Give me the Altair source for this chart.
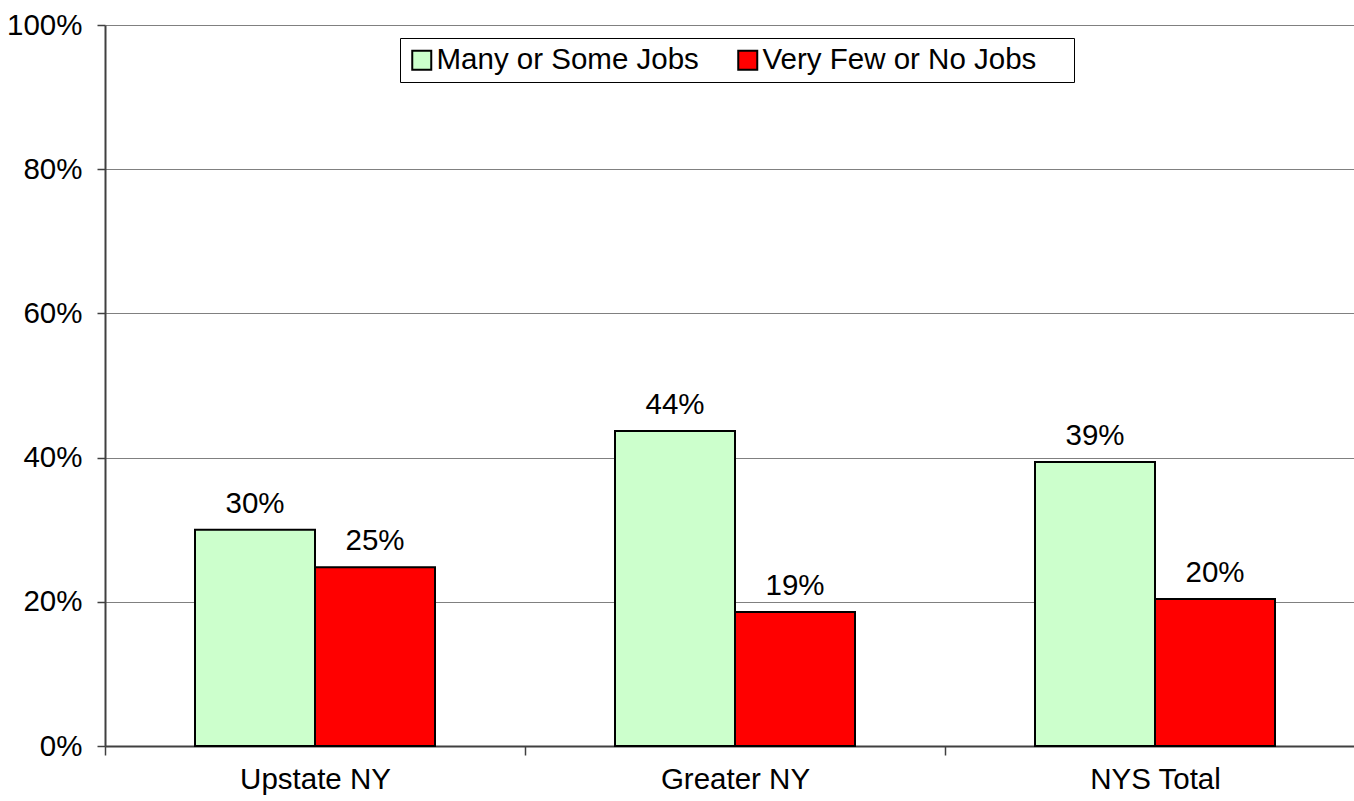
import altair as alt
import pandas as pd

categories = ["Upstate NY", "Greater NY", "NYS Total"]
series = ["Many or Some Jobs", "Very Few or No Jobs"]
many_values = [0.300, 0.437, 0.394]
few_values = [0.248, 0.186, 0.204]
colors = ["#CCFFCC", "#FF0000"]
y_ticks = [0, 0.2, 0.4, 0.6, 0.8, 1.0]

rows = []
for i, c in enumerate(categories):
    rows.append({"cat": c, "series": series[0], "value": many_values[i]})
    rows.append({"cat": c, "series": series[1], "value": few_values[i]})
df = pd.DataFrame(rows)

FONT = "Liberation Sans"
FS = 29.5

base = alt.Chart(df).encode(
    x=alt.X(
        "cat:N",
        sort=categories,
        scale=alt.Scale(range=[0, 1260], paddingInner=0, paddingOuter=0),
        axis=alt.Axis(
            title=None, labelAngle=0, tickBand="extent", tickSize=9,
            labelPadding=10, labelFont=FONT, labelFontSize=FS, labelColor="black",
            domainColor="#404040", domainWidth=2, tickColor="#404040", tickWidth=1.5,
            grid=False,
        ),
    ),
    xOffset=alt.XOffset(
        "series:N", sort=series,
        scale=alt.Scale(paddingInner=0, paddingOuter=0.75),
    ),
    y=alt.Y(
        "value:Q",
        scale=alt.Scale(domain=[0, 1]),
        axis=alt.Axis(
            title=None, values=y_ticks, format=".0%", tickSize=8, labelPadding=15,
            labelFont=FONT, labelFontSize=FS, labelColor="black",
            domainColor="#404040", domainWidth=2, tickColor="#404040", tickWidth=1.5,
            grid=True, gridColor="#808080", gridWidth=1,
        ),
    ),
)

bars = base.mark_bar(stroke="black", strokeWidth=2).encode(
    color=alt.Color(
        "series:N", sort=series,
        scale=alt.Scale(domain=series, range=colors),
        legend=alt.Legend(
            title=None, orient="none", legendX=295, legendY=13,
            direction="horizontal", strokeColor="black", fillColor="white",
            padding=7, symbolType="square", symbolSize=361,
            symbolStrokeColor="black", symbolStrokeWidth=2, symbolOpacity=1,
            labelFont=FONT, labelFontSize=FS, labelColor="black", labelLimit=0,
            columnPadding=34, labelOffset=0,
            labelExpr="datum.label == 'Very Few or No Jobs' ? datum.label + '\u00a0\u2800' : datum.label",
        ),
    )
)

text = base.mark_text(
    baseline="bottom", dy=-11, fontSize=FS, font=FONT, color="black"
).encode(text=alt.Text("value:Q", format=".0%"))

chart = (
    (bars + text)
    .properties(
        width=1249, height=721,
        autosize=alt.AutoSizeParams(type="none"),
        padding={"left": 105, "top": 25, "right": 0, "bottom": 55},
        background="white",
    )
    .configure_view(stroke=None)
)

chart.save("out.html", embed_options={"renderer": "svg", "actions": False})
